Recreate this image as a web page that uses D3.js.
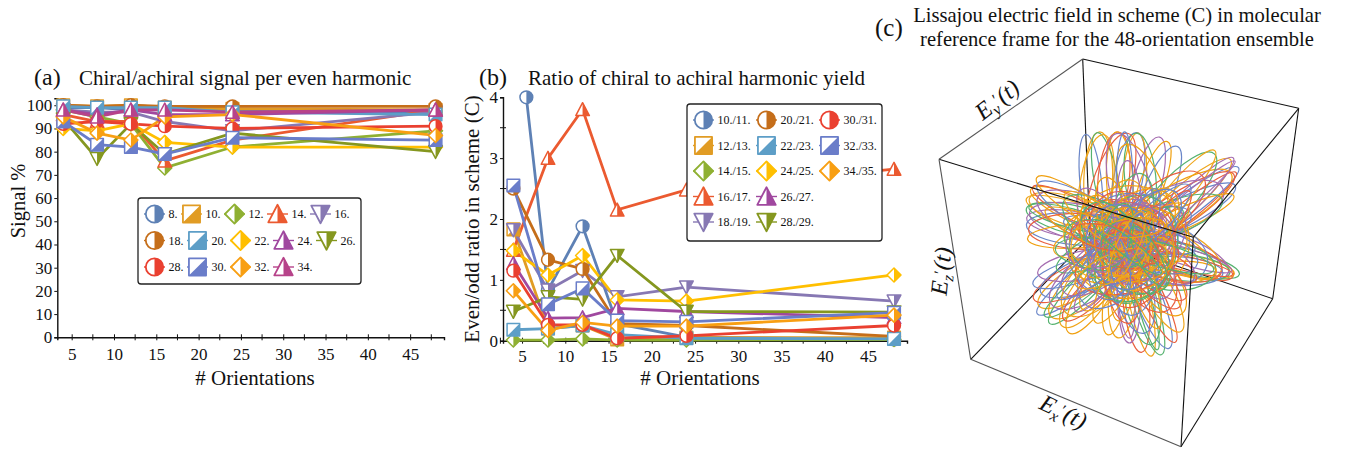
<!DOCTYPE html>
<html>

<head>
    <meta charset="utf-8" />
    <script src="https://cdn.jsdelivr.net/npm/d3@7/dist/d3.min.js"></script>
    <style>
        html, body { margin: 0; padding: 0; background: #fff; }
        svg { display: block; }
        text { font-family: "Liberation Serif", serif; fill: #111; }
    </style>
</head>

<body>
    <script>
        var orientations = [4, 8, 12, 16, 24, 48];

        // panel (a), signal %
        var signalLabels = ['8.', '10.', '12.', '14.', '16.', '18.', '20.', '22.', '24.', '26.', '28.', '30.', '32.', '34.'];
        var signal8 = [99, 99, 98, 98, 98, 97];
        var signal10 = [100, 99.5, 100, 99, 98.5, 98];
        var signal12 = [98, 95, 92, 73, 82, 89];
        var signal14 = [96, 93, 93, 76, 85, 98];
        var signal16 = [98, 97, 97, 93, 89, 97];
        var signal18 = [100, 99.5, 100, 99.5, 99.5, 99.5];
        var signal20 = [99.5, 99, 99, 99, 97, 96];
        var signal22 = [90, 89, 92, 84, 82, 82];
        var signal24 = [98, 96, 98, 96, 96, 98];
        var signal26 = [94, 77, 92, 79, 88, 80];
        var signal28 = [92, 93, 92, 91, 90, 91];
        var signal30 = [93, 83, 82, 79, 86, 85];
        var signal32 = [95, 88, 85, 95, 96, 87];
        var signal34 = [98, 95, 98, 98, 97, 98];
        var signalSeries = [signal8, signal10, signal12, signal14, signal16, signal18, signal20,
            signal22, signal24, signal26, signal28, signal30, signal32, signal34];

        // panel (b), even/odd ratio
        var ratioLabels = ['10./11.', '12./13.', '14./15.', '16./17.', '18./19.', '20./21.', '22./23.',
            '24./25.', '26./27.', '28./29.', '30./31.', '32./33.', '34./35.'];
        var ratioOrientations1011 = [5.5, 8, 12, 16, 24, 48];
        var ratio1011 = [4, 0.83, 1.88, 0.28, 0.06, 0.02];
        var ratio1213 = [1.83, 0.2, 0.25, 0.02, 0.05, 0.05];
        var ratio1415 = [0.01, 0.01, 0.03, 0.01, 0.01, 0.02];
        var ratio1617 = [1.49, 3, 3.8, 2.15, 2.48, 2.82];
        var ratio1819 = [1.82, 0.83, 1.15, 0.72, 0.88, 0.65];
        var ratio2021 = [2.5, 1.33, 1.18, 0.28, 0.25, 0.07];
        var ratio2223 = [0.18, 0.2, 0.25, 0.1, 0.04, 0.03];
        var ratio2425 = [1.48, 1.08, 1.4, 0.67, 0.65, 1.08];
        var ratio2627 = [1.27, 0.37, 0.38, 0.53, 0.48, 0.38];
        var ratio2829 = [0.48, 0.72, 0.68, 1.4, 0.48, 0.47];
        var ratio3031 = [1.15, 0.26, 0.26, 0.04, 0.08, 0.25];
        var ratio3233 = [2.55, 0.6, 0.86, 0.33, 0.31, 0.46];
        var ratio3435 = [0.82, 0.17, 0.3, 0.24, 0.24, 0.42];
        var ratioSeries = [ratio1011, ratio1213, ratio1415, ratio1617, ratio1819, ratio2021, ratio2223,
            ratio2425, ratio2627, ratio2829, ratio3031, ratio3233, ratio3435];

        // panel (c), field loops: [centre x, centre y, long radius, short radius, tilt deg]
        var loopsTop = [
            [-0.30, 0.52, 0.42, 0.09, 96], [-0.24, 0.56, 0.40, 0.12, 88], [-0.17, 0.54, 0.42, 0.10, 101],
            [-0.11, 0.58, 0.38, 0.13, 84], [-0.06, 0.54, 0.42, 0.11, 93], [0.01, 0.57, 0.39, 0.12, 79],
            [0.06, 0.53, 0.42, 0.10, 86], [0.11, 0.58, 0.37, 0.13, 96], [0.16, 0.50, 0.43, 0.12, 75],
            [0.21, 0.53, 0.37, 0.10, 70], [0.26, 0.46, 0.41, 0.12, 67], [-0.26, 0.47, 0.47, 0.14, 82],
            [-0.14, 0.48, 0.49, 0.16, 72], [0.03, 0.47, 0.49, 0.17, 104], [0.14, 0.43, 0.45, 0.18, 110],
            [-0.02, 0.52, 0.44, 0.07, 90]
        ];
        var loopsUpperRight = [
            [0.46, 0.32, 0.58, 0.10, 36], [0.44, 0.36, 0.56, 0.12, 41], [0.42, 0.30, 0.56, 0.14, 33],
            [0.49, 0.36, 0.55, 0.09, 44], [0.40, 0.34, 0.54, 0.17, 30], [0.43, 0.27, 0.53, 0.12, 27],
            [0.38, 0.39, 0.52, 0.16, 48], [0.50, 0.30, 0.52, 0.08, 38], [0.36, 0.29, 0.48, 0.20, 24],
            [0.47, 0.24, 0.46, 0.09, 24], [0.41, 0.42, 0.50, 0.10, 50], [0.37, 0.24, 0.45, 0.14, 20],
            [0.30, 0.33, 0.42, 0.20, 38], [0.44, 0.33, 0.60, 0.06, 40]
        ];
        var loopsLeft = [
            [-0.44, 0.27, 0.42, 0.10, -18], [-0.42, 0.22, 0.43, 0.12, -13], [-0.46, 0.19, 0.38, 0.11, -8],
            [-0.40, 0.30, 0.44, 0.11, -24], [-0.44, 0.15, 0.40, 0.13, -5], [-0.38, 0.25, 0.46, 0.14, -20],
            [-0.45, 0.32, 0.38, 0.09, -28], [-0.36, 0.20, 0.46, 0.15, -11], [-0.42, 0.09, 0.41, 0.10, 3],
            [-0.34, 0.29, 0.47, 0.13, -30], [-0.47, 0.24, 0.36, 0.08, -15], [-0.36, 0.13, 0.46, 0.15, -2],
            [-0.30, 0.23, 0.48, 0.18, -22], [-0.40, 0.35, 0.42, 0.10, -33]
        ];
        var loopsLowerLeft = [
            [-0.38, -0.28, 0.46, 0.10, 37], [-0.36, -0.26, 0.44, 0.13, 31], [-0.34, -0.32, 0.44, 0.10, 46],
            [-0.40, -0.25, 0.42, 0.12, 26], [-0.32, -0.30, 0.42, 0.15, 41], [-0.33, -0.22, 0.42, 0.14, 22],
            [-0.28, -0.33, 0.42, 0.14, 52], [-0.37, -0.33, 0.40, 0.09, 38], [-0.30, -0.25, 0.40, 0.18, 34],
            [-0.26, -0.36, 0.42, 0.13, 58], [-0.42, -0.20, 0.38, 0.10, 17], [-0.24, -0.28, 0.38, 0.20, 44],
            [-0.30, -0.38, 0.32, 0.10, 45], [-0.35, -0.15, 0.40, 0.12, 10]
        ];
        var loopsBottom = [
            [0.10, -0.42, 0.50, 0.09, -78], [0.14, -0.42, 0.50, 0.10, -73], [0.07, -0.40, 0.48, 0.11, -84],
            [0.02, -0.38, 0.42, 0.10, -90], [0.17, -0.40, 0.48, 0.11, -68], [-0.03, -0.36, 0.40, 0.12, -96],
            [0.12, -0.38, 0.44, 0.15, -80], [0.20, -0.38, 0.46, 0.09, -64], [-0.08, -0.36, 0.38, 0.10, -102],
            [0.05, -0.35, 0.38, 0.16, -75], [0.24, -0.34, 0.42, 0.12, -60], [0.15, -0.47, 0.40, 0.06, -75],
            [-0.01, -0.40, 0.36, 0.07, -85], [0.26, -0.28, 0.34, 0.16, -55]
        ];
        var loopsRight = [
            [0.50, -0.12, 0.45, 0.10, -14], [0.48, -0.10, 0.43, 0.12, -19], [0.46, -0.07, 0.41, 0.15, -21],
            [0.48, -0.15, 0.42, 0.09, -10], [0.44, -0.04, 0.38, 0.17, -27], [0.46, -0.17, 0.40, 0.11, -6],
            [0.42, -0.12, 0.38, 0.16, -12], [0.49, -0.08, 0.40, 0.07, -17], [0.42, -0.20, 0.38, 0.12, -3],
            [0.40, -0.02, 0.40, 0.14, -33], [0.36, -0.16, 0.38, 0.20, -5], [0.50, -0.14, 0.39, 0.06, -13],
            [0.38, -0.22, 0.36, 0.10, 4], [0.34, -0.06, 0.34, 0.24, -18]
        ];
        var loopsCentre = [
            [0.02, 0.04, 0.50, 0.47, 10], [-0.03, 0.02, 0.48, 0.40, 35], [0.05, -0.02, 0.46, 0.36, 70],
            [0.00, 0.06, 0.42, 0.30, -30], [0.04, 0.00, 0.40, 0.34, 100], [-0.05, -0.03, 0.44, 0.26, 15],
            [0.06, 0.03, 0.36, 0.22, 55], [-0.02, -0.05, 0.38, 0.20, -60], [0.03, 0.08, 0.34, 0.18, 125],
            [-0.06, 0.02, 0.33, 0.24, 80], [0.01, -0.01, 0.30, 0.15, -10], [0.05, -0.06, 0.30, 0.19, 30],
            [-0.02, 0.07, 0.28, 0.13, -45], [0.00, 0.02, 0.26, 0.21, 5], [0.07, 0.02, 0.24, 0.12, 95],
            [-0.07, -0.02, 0.25, 0.10, 60], [0.02, -0.04, 0.21, 0.14, -75], [-0.01, 0.04, 0.18, 0.08, 20],
            [0.03, 0.01, 0.16, 0.11, 140], [-0.03, -0.01, 0.13, 0.07, 45], [0.10, 0.12, 0.46, 0.16, 20],
            [-0.10, -0.10, 0.50, 0.15, 58], [0.12, -0.12, 0.48, 0.14, -40], [-0.12, 0.10, 0.46, 0.17, -55],
            [0.00, -0.10, 0.52, 0.12, 82], [0.02, 0.10, 0.56, 0.12, -12], [-0.06, 0.06, 0.58, 0.14, 25],
            [0.08, -0.04, 0.55, 0.13, -25], [0.16, 0.02, 0.40, 0.24, 45], [-0.14, 0.02, 0.40, 0.25, -20]
        ];
        var loopsCore = [
            [0.18, 0.10, 0.42, 0.20, 65], [-0.16, 0.14, 0.44, 0.19, -35], [0.14, -0.18, 0.40, 0.22, -60],
            [-0.18, -0.12, 0.43, 0.18, 35], [0.22, -0.04, 0.38, 0.16, -15], [-0.22, 0.06, 0.40, 0.14, 12],
            [0.04, 0.24, 0.38, 0.17, 78], [-0.04, -0.24, 0.40, 0.15, -82], [0.10, 0.20, 0.34, 0.24, 40],
            [-0.12, -0.20, 0.36, 0.23, 50], [0.20, 0.16, 0.36, 0.12, 30], [-0.24, -0.06, 0.36, 0.13, -8],
            [0.26, -0.10, 0.34, 0.15, -30], [-0.10, 0.24, 0.35, 0.14, 105], [0.06, -0.20, 0.37, 0.20, -95],
            [0.00, 0.14, 0.42, 0.22, 88], [0.00, -0.14, 0.44, 0.24, 15], [0.14, 0.00, 0.46, 0.20, 112],
            [-0.14, 0.00, 0.45, 0.21, -70], [0.08, 0.08, 0.50, 0.22, 48], [-0.08, -0.08, 0.48, 0.24, -28],
            [0.10, -0.08, 0.44, 0.28, 70], [-0.10, 0.08, 0.42, 0.27, 18], [0.20, 0.06, 0.30, 0.26, 0],
            [-0.20, 0.04, 0.31, 0.25, 60], [0.04, -0.18, 0.32, 0.26, 28], [-0.02, 0.18, 0.30, 0.27, -42],
            [0.12, 0.14, 0.28, 0.20, -20], [-0.14, -0.14, 0.30, 0.19, 85], [0.16, -0.14, 0.27, 0.18, 40],
            [-0.16, 0.14, 0.26, 0.19, 130], [0.24, 0.10, 0.46, 0.11, 52], [-0.26, 0.12, 0.46, 0.11, -24],
            [-0.24, -0.14, 0.44, 0.12, 40], [0.12, -0.26, 0.44, 0.10, -72], [0.26, -0.06, 0.48, 0.10, -16],
            [0.02, 0.28, 0.44, 0.11, 92], [-0.06, -0.26, 0.42, 0.12, 62], [0.22, 0.22, 0.42, 0.12, 44],
            [-0.20, 0.20, 0.40, 0.12, -38], [0.18, -0.22, 0.38, 0.13, -48], [-0.18, -0.22, 0.40, 0.10, 52],
            [0.06, 0.02, 0.34, 0.30, 150], [-0.04, 0.00, 0.36, 0.29, 110], [0.00, 0.04, 0.22, 0.18, 70],
            [0.02, -0.02, 0.24, 0.16, -5], [-0.04, 0.05, 0.20, 0.15, 35], [0.05, 0.04, 0.18, 0.14, 120],
            [0.08, -0.10, 0.26, 0.13, 15], [-0.08, 0.10, 0.27, 0.12, 75], [0.10, 0.04, 0.22, 0.10, -50],
            [-0.10, -0.04, 0.23, 0.09, 28], [0.14, 0.18, 0.32, 0.10, 72], [-0.14, -0.18, 0.32, 0.11, 25],
            [0.18, -0.08, 0.28, 0.09, -62], [-0.18, 0.08, 0.29, 0.10, -12], [0.06, 0.16, 0.26, 0.08, 5],
            [-0.06, -0.16, 0.25, 0.08, 100], [0.00, 0.00, 0.32, 0.09, 66], [0.00, 0.00, 0.36, 0.07, -38]
        ];
        var loopColors = ['#6a86c8', '#efa61c', '#55b26f', '#e9603f', '#a56db0', '#f0a010'];

        var seriesColors = ['#5e81b5', '#e19c24', '#8fb032', '#eb5a30', '#8778b3', '#c56e1a', '#5d9ec7',
            '#ffbf00', '#a0489f', '#85971f', '#ea4030', '#6a7dc9', '#f89f13', '#b7438a'];
        var seriesShapes = ['circle', 'square', 'diamond', 'up', 'down', 'circle', 'square',
            'diamond', 'up', 'down', 'circle', 'square', 'diamond', 'up'];
        var ratioColors = seriesColors.slice(0, 13);

        var width = 1349;
        var height = 452;
        var svg = d3.select('body').append('svg')
            .attr('width', width)
            .attr('height', height);

        function shapePaths(shape, k) {
            var s, d;
            if (shape === 'circle') {
                s = 6.4 * k;
                return ['M0,' + (-s) + 'A' + s + ',' + s + ' 0 1 1 0,' + s + 'A' + s + ',' + s + ' 0 1 1 0,' + (-s) + 'Z',
                    'M0,' + (-s) + 'A' + s + ',' + s + ' 0 0 1 0,' + s + 'Z'];
            }
            if (shape === 'square') {
                s = 6.3 * k;
                return ['M' + (-s) + ',' + (-s) + 'H' + s + 'V' + s + 'H' + (-s) + 'Z',
                    'M' + s + ',' + (-s) + 'V' + s + 'H' + (-s) + 'Z'];
            }
            if (shape === 'diamond') {
                d = 7 * k;
                return ['M0,' + (-d) + 'L' + d + ',0L0,' + d + 'L' + (-d) + ',0Z',
                    'M0,' + (-d) + 'L' + d + ',0L0,' + d + 'Z'];
            }
            var dir = shape === 'up' ? 1 : -1;
            s = 6.8 * k;
            return ['M0,' + (-dir * s) + 'L' + s + ',' + (dir * 0.9 * s) + 'H' + (-s) + 'Z',
                'M0,' + (-dir * s) + 'L' + s + ',' + (dir * 0.9 * s) + 'H0Z'];
        }

        function addMarker(parent, shape, color, x, y, k, strokeWidth) {
            var paths = shapePaths(shape, k);
            var g = parent.append('g').attr('transform', 'translate(' + x + ',' + y + ')');
            g.append('path').attr('d', paths[0]).attr('fill', '#fff')
                .attr('stroke', color).attr('stroke-width', strokeWidth).attr('stroke-linejoin', 'round');
            g.append('path').attr('d', paths[1]).attr('fill', color);
        }

        function drawAxes(x, y, yMajor, yMinor, xTicks, xMinor, xPadding) {
            var bottom = y.range()[0];
            var left = x.range()[0];
            var axisX = d3.axisBottom(x).tickValues(xTicks).tickSize(3).tickPadding(xPadding).tickFormat(d3.format('d'));
            var gx = svg.append('g').attr('transform', 'translate(0,' + bottom + ')').call(axisX);
            var axisY = d3.axisLeft(y).tickValues(yMajor).tickSize(3).tickPadding(2).tickFormat(d3.format('d'));
            var gy = svg.append('g').attr('transform', 'translate(' + left + ',0)').call(axisY);
            [gx, gy].forEach(function (g) {
                g.selectAll('.domain').attr('stroke', '#111').attr('stroke-width', 1.4);
                g.selectAll('.tick line').attr('stroke', '#111');
                g.selectAll('text').attr('font-size', 17).attr('font-family', '"Liberation Serif", serif').attr('fill', '#111');
            });
            gx.selectAll('.tick line').attr('y1', -3);
            gx.selectAll('.minor').data(xMinor).enter().append('line')
                .attr('x1', function (d) { return x(d); })
                .attr('x2', function (d) { return x(d); })
                .attr('y1', -3).attr('y2', 3).attr('stroke', '#111');
            gy.selectAll('.minor').data(yMinor).enter().append('line')
                .attr('y1', function (d) { return y(d); })
                .attr('y2', function (d) { return y(d); })
                .attr('x1', -3).attr('x2', 3).attr('stroke', '#111');
        }

        function drawSeries(x, y, series, colors, shapes, xsFor) {
            var line = d3.line()
                .x(function (d) { return x(d[0]); })
                .y(function (d) { return y(d[1]); });
            var rows = series.map(function (values, i) {
                return d3.zip(xsFor(i), values);
            });
            svg.append('g').selectAll('path').data(rows).enter().append('path')
                .attr('d', line)
                .attr('fill', 'none')
                .attr('stroke', function (d, i) { return colors[i]; })
                .attr('stroke-width', 2.8);
            var pts = svg.append('g');
            rows.forEach(function (row, i) {
                row.forEach(function (p) {
                    addMarker(pts, shapes[i], colors[i], x(p[0]), y(p[1]), 1, 1.5);
                });
            });
        }

        function legendBox(x0, y0, w, h) {
            svg.append('rect').attr('x', x0).attr('y', y0).attr('width', w).attr('height', h)
                .attr('rx', 3).attr('fill', '#fff').attr('stroke', '#222').attr('stroke-width', 1.3);
        }

        function legendItem(shape, color, label, mx, my, tx) {
            svg.append('line').attr('x1', mx - 10.5).attr('x2', mx + 10.5).attr('y1', my).attr('y2', my)
                .attr('stroke', color).attr('stroke-width', 1.4);
            addMarker(svg, shape, color, mx, my, 1.36, 1.8);
            svg.append('text').attr('x', tx).attr('y', my + 4).attr('font-size', 12).text(label);
        }

        var xTicks = [5, 10, 15, 20, 25, 30, 35, 40, 45];
        var xMinor = [2.5, 7.5, 12.5, 17.5, 22.5, 27.5, 32.5, 37.5, 42.5, 47.5];

        // ---- panel (a)
        var xA = d3.scaleLinear().domain([3.3, 49]).range([57.3, 444]);
        var yA = d3.scaleLinear().domain([0, 103]).range([337.3, 98.3]);
        drawAxes(xA, yA, [0, 10, 20, 30, 40, 50, 60, 70, 80, 90, 100], [], xTicks, xMinor.slice(1), 8);
        drawSeries(xA, yA, signalSeries, seriesColors, seriesShapes, function () { return orientations; });

        svg.append('text').attr('x', 34).attr('y', 85).attr('font-size', 24).text('(a)');
        svg.append('text').attr('x', 79).attr('y', 85).attr('font-size', 21).text('Chiral/achiral signal per even harmonic');
        svg.append('text').attr('transform', 'translate(25,201) rotate(-90)').attr('text-anchor', 'middle')
            .attr('font-size', 20.5).text('Signal %');
        svg.append('text').attr('x', 255).attr('y', 385).attr('text-anchor', 'middle')
            .attr('font-size', 21).text('# Orientations');

        legendBox(138, 198, 223, 86);
        signalLabels.forEach(function (label, i) {
            var row = Math.floor(i / 5);
            var col = i % 5;
            var mx = 154.5 + col * 43 - (row === 0 && col > 0 ? 6 : 0);
            var my = 214 + row * 26.5;
            legendItem(seriesShapes[i], seriesColors[i], label, mx, my, mx + 14);
        });

        // ---- panel (b)
        var xB = d3.scaleLinear().domain([2.8, 49.5]).range([503, 907]);
        var yB = d3.scaleLinear().domain([0, 4]).range([340.7, 97.3]);
        drawAxes(xB, yB, [0, 1, 2, 3, 4], [0.5, 1.5, 2.5, 3.5], xTicks, xMinor, 6);
        drawSeries(xB, yB, ratioSeries, ratioColors, seriesShapes, function (i) {
            return i === 0 ? ratioOrientations1011 : orientations;
        });

        svg.append('text').attr('x', 479).attr('y', 85).attr('font-size', 24).text('(b)');
        svg.append('text').attr('x', 528).attr('y', 85).attr('font-size', 21).text('Ratio of chiral to achiral harmonic yield');
        svg.append('text').attr('transform', 'translate(479,219) rotate(-90)').attr('text-anchor', 'middle')
            .attr('font-size', 21).text('Even/odd ratio in scheme (C)');
        svg.append('text').attr('x', 700).attr('y', 385).attr('text-anchor', 'middle')
            .attr('font-size', 21).text('# Orientations');

        legendBox(687, 104, 195, 137);
        ratioLabels.forEach(function (label, i) {
            var col = Math.floor(i / 5);
            var row = i % 5;
            // the legend fills its columns top to bottom
            var mx = 703.5 + col * 63;
            var my = 120 + row * 25.5;
            legendItem(seriesShapes[i], ratioColors[i], label, mx, my, mx + 14);
        });

        // ---- panel (c)
        var fieldX = d3.scaleLinear().domain([-1, 1]).range([1007, 1247]);
        var fieldY = d3.scaleLinear().domain([-1, 1]).range([367, 127]);
        var unit = fieldX(1) - fieldX(0);

        var boxA = [1082.7, 59], boxB = [939, 159.3], boxC = [1193.3, 237.3], boxD = [1298.7, 108.3];
        var boxE = [970.7, 359.3], boxF = [1181, 446.7], boxG = [1090, 236.5], boxH = [1272.7, 298.7];

        function edge(p, q, color) {
            svg.append('line').attr('x1', p[0]).attr('y1', p[1]).attr('x2', q[0]).attr('y2', q[1])
                .attr('stroke', color).attr('stroke-width', 1.1);
        }

        edge(boxA, boxG, '#111');
        edge(boxE, boxG, '#111');
        edge(boxH, boxG, '#111');

        var allLoops = loopsTop.concat(loopsRight, loopsLeft, loopsBottom, loopsUpperRight, loopsLowerLeft, loopsCentre, loopsCore);
        svg.append('g').selectAll('ellipse').data(allLoops).enter().append('ellipse')
            .attr('rx', function (d) { return d[2] * unit; })
            .attr('ry', function (d) { return d[3] * unit; })
            .attr('transform', function (d) {
                return 'translate(' + fieldX(d[0]) + ',' + fieldY(d[1]) + ') rotate(' + (-d[4]) + ')';
            })
            .attr('fill', 'none')
            .attr('stroke', function (d, i) { return loopColors[(i * 7 + (i >> 2)) % loopColors.length]; })
            .attr('stroke-width', 1.2);

        edge(boxA, boxD, '#111');
        edge(boxD, boxH, '#111');
        edge(boxH, boxF, '#111');
        edge(boxB, boxC, '#111');
        edge(boxC, boxD, '#111');
        edge(boxC, boxF, '#111');
        edge(boxA, boxB, '#555');
        edge(boxB, boxE, '#555');
        edge(boxE, boxF, '#555');

        function axisLabel(tx, ty, angle, sub) {
            var t = svg.append('text').attr('transform', 'translate(' + tx + ',' + ty + ') rotate(' + angle + ')')
                .attr('text-anchor', 'middle').attr('font-size', 24).attr('font-style', 'italic');
            t.append('tspan').text('E');
            t.append('tspan').attr('dy', 5).attr('font-size', 16).text(sub);
            t.append('tspan').attr('dy', -9).attr('font-size', 16).attr('font-style', 'normal').text('\u2032');
            t.append('tspan').attr('dy', 4).attr('dx', 1).text('(t)');
        }
        axisLabel(1002, 106, -38, 'y');
        axisLabel(949, 272, -84, 'z');
        axisLabel(1060, 419, 26, 'x');

        svg.append('text').attr('x', 875).attr('y', 36).attr('font-size', 25).text('(c)');
        svg.append('text').attr('x', 1117).attr('y', 22).attr('text-anchor', 'middle').attr('font-size', 20.6)
            .text('Lissajou electric field in scheme (C) in molecular');
        svg.append('text').attr('x', 1117).attr('y', 46).attr('text-anchor', 'middle').attr('font-size', 20.6)
            .text('reference frame for the 48-orientation ensemble');
    </script>
</body>

</html>
